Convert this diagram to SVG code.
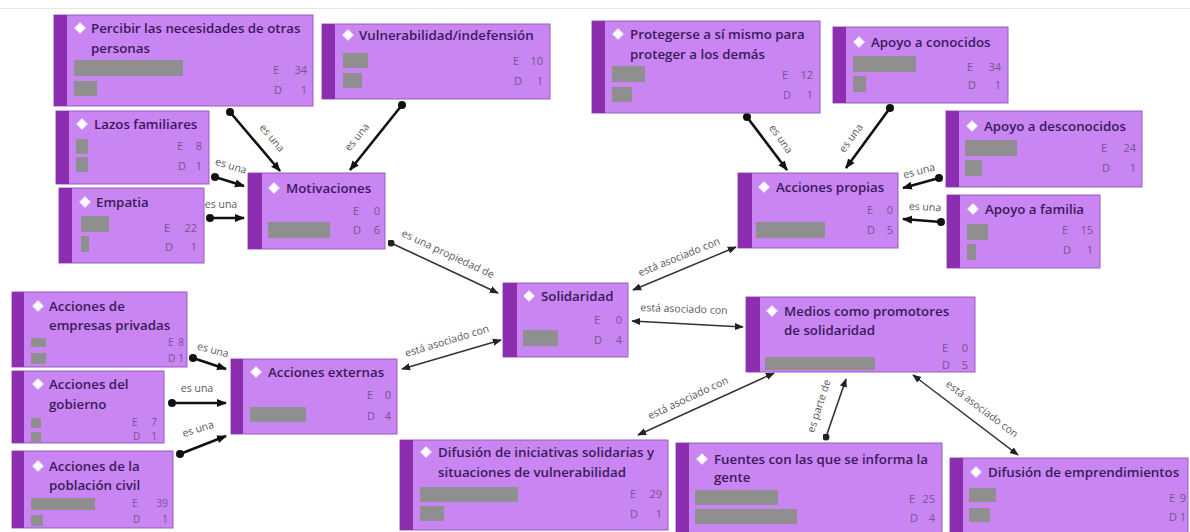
<svg xmlns="http://www.w3.org/2000/svg" width="1190" height="532" viewBox="0 0 1190 532">
<style>
.box{fill:#c985f1;stroke:#9a5cc0;stroke-width:1}
.stripe{fill:#8d2db0}
.bar{fill:#8f8f8f}
.dia{fill:#ffffff;stroke:#eadcf6;stroke-width:0.8}
.t{font-family:"Open Sans","DejaVu Sans",sans-serif;font-size:13.3px;font-weight:600;fill:#3a1a5c}
.n{font-family:"Open Sans","DejaVu Sans",sans-serif;font-size:11px;fill:#73588c}
.ne{font-family:"Open Sans","DejaVu Sans",sans-serif;font-size:11px;fill:#73588c;text-anchor:end}
.sm{font-size:10px}
.lb{font-family:"Open Sans","DejaVu Sans",sans-serif;font-size:10.5px;fill:#5a5a5a;text-anchor:middle}
.isa{stroke:#111111;stroke-width:2.6;fill:none;marker-start:url(#dot);marker-end:url(#arr)}
.prop{stroke:#333333;stroke-width:1.6;fill:none;marker-start:url(#dot2);marker-end:url(#arr2)}
.asoc{stroke:#333333;stroke-width:1.5;fill:none;marker-start:url(#arr2);marker-end:url(#arr2)}
</style>
<defs>
<marker id="arr" markerUnits="userSpaceOnUse" viewBox="0 0 10 10" refX="9" refY="5" markerWidth="10" markerHeight="10" orient="auto-start-reverse"><path d="M0,1 L10,5 L0,9 z" fill="#111"/></marker>
<marker id="arr2" markerUnits="userSpaceOnUse" viewBox="0 0 10 10" refX="9" refY="5" markerWidth="9" markerHeight="9" orient="auto-start-reverse"><path d="M0,1 L10,5 L0,9 z" fill="#222"/></marker>
<marker id="dot" markerUnits="userSpaceOnUse" viewBox="0 0 10 10" refX="5" refY="5" markerWidth="8" markerHeight="8"><circle cx="5" cy="5" r="5" fill="#111"/></marker>
<marker id="dot2" markerUnits="userSpaceOnUse" viewBox="0 0 10 10" refX="5" refY="5" markerWidth="7" markerHeight="7"><circle cx="5" cy="5" r="5" fill="#222"/></marker>
<path id="dm" d="M0,-5.5 L5.5,0 L0,5.5 L-5.5,0 z"/>
</defs>
<rect x="0" y="0" width="1190" height="532" fill="#ffffff"/>
<line x1="0" y1="8.5" x2="1190" y2="8.5" stroke="#e6e6e6" stroke-width="1"/>

<g id="connectors">
<line class="isa" x1="230" y1="112" x2="280" y2="171"/>
<line class="isa" x1="402" y1="105" x2="350" y2="170"/>
<line class="isa" x1="215" y1="177" x2="244" y2="186"/>
<line class="isa" x1="210" y1="218" x2="244" y2="218"/>
<line class="prop" x1="391" y1="243" x2="498" y2="293"/>
<line class="isa" x1="747" y1="117" x2="787" y2="170"/>
<line class="isa" x1="890" y1="108" x2="846" y2="168"/>
<line class="isa" x1="939" y1="178" x2="903" y2="188"/>
<line class="isa" x1="941" y1="222" x2="903" y2="219"/>
<line class="isa" x1="193" y1="358" x2="226" y2="369"/>
<line class="isa" x1="172" y1="403" x2="226" y2="403"/>
<line class="isa" x1="180" y1="454" x2="226" y2="436"/>
<line class="prop" x1="826" y1="437" x2="846" y2="379"/>
<line class="asoc" x1="633" y1="290" x2="736" y2="247"/>
<line class="asoc" x1="632" y1="321" x2="743" y2="327"/>
<line class="asoc" x1="402" y1="369" x2="501" y2="340"/>
<line class="asoc" x1="638" y1="435" x2="774" y2="373"/>
<line class="asoc" x1="913" y1="375" x2="1018" y2="455"/>
<g transform="translate(272,138) rotate(50)"><text class="lb" x="0" y="3.5">es una</text></g>
<g transform="translate(357,137) rotate(-51)"><text class="lb" x="0" y="3.5">es una</text></g>
<g transform="translate(231,166) rotate(17)"><text class="lb" x="0" y="3.5">es una</text></g>
<g transform="translate(221,204)"><text class="lb" x="0" y="3.5">es una</text></g>
<g transform="translate(448,254) rotate(25)"><text class="lb" x="0" y="3.5">es una propiedad de</text></g>
<g transform="translate(781,139) rotate(55)"><text class="lb" x="0" y="3.5">es una</text></g>
<g transform="translate(851,138) rotate(-54)"><text class="lb" x="0" y="3.5">es una</text></g>
<g transform="translate(919,171) rotate(-15)"><text class="lb" x="0" y="3.5">es una</text></g>
<g transform="translate(925,207) rotate(3)"><text class="lb" x="0" y="3.5">es una</text></g>
<g transform="translate(213,350) rotate(15)"><text class="lb" x="0" y="3.5">es una</text></g>
<g transform="translate(197,388)"><text class="lb" x="0" y="3.5">es una</text></g>
<g transform="translate(198,429) rotate(-18)"><text class="lb" x="0" y="3.5">es una</text></g>
<g transform="translate(819,406) rotate(-72)"><text class="lb" x="0" y="3.5">es parte de</text></g>
<g transform="translate(679,257) rotate(-22)"><text class="lb" x="0" y="3.5">está asociado con</text></g>
<g transform="translate(684,309) rotate(2)"><text class="lb" x="0" y="3.5">está asociado con</text></g>
<g transform="translate(447,341) rotate(-17)"><text class="lb" x="0" y="3.5">está asociado con</text></g>
<g transform="translate(688,398) rotate(-25)"><text class="lb" x="0" y="3.5">está asociado con</text></g>
<g transform="translate(982,409) rotate(37)"><text class="lb" x="0" y="3.5">está asociado con</text></g>
</g>

<g id="n1">
<rect class="box" x="54" y="15" width="259" height="91"/><rect class="stripe" x="54" y="15" width="13" height="91"/>
<use href="#dm" class="dia" x="80" y="28"/>
<text class="t" x="91" y="33">Percibir las necesidades de otras</text><text class="t" x="91" y="53">personas</text>
<rect class="bar" x="74" y="60" width="109" height="16"/><rect class="bar" x="74" y="81" width="23" height="15"/>
<text class="n" x="273" y="74">E</text><text class="ne" x="307" y="74">34</text>
<text class="n" x="274" y="94">D</text><text class="ne" x="307" y="94">1</text>
</g>
<g id="n2">
<rect class="box" x="322" y="24" width="228" height="75"/><rect class="stripe" x="322" y="24" width="13" height="75"/>
<use href="#dm" class="dia" x="348" y="35"/>
<text class="t" x="359" y="40">Vulnerabilidad/indefensión</text>
<rect class="bar" x="343" y="53" width="25" height="15"/><rect class="bar" x="343" y="73" width="19" height="15"/>
<text class="n" x="513" y="65">E</text><text class="ne" x="543" y="65">10</text>
<text class="n" x="514" y="85">D</text><text class="ne" x="543" y="85">1</text>
</g>
<g id="n3">
<rect class="box" x="56" y="111" width="153" height="73"/><rect class="stripe" x="56" y="111" width="13" height="73"/>
<use href="#dm" class="dia" x="82" y="124"/>
<text class="t" x="94" y="129">Lazos familiares</text>
<rect class="bar" x="76" y="139" width="12" height="15"/><rect class="bar" x="76" y="157" width="12" height="15"/>
<text class="n" x="177" y="150">E</text><text class="ne" x="202" y="150">8</text>
<text class="n" x="178" y="170">D</text><text class="ne" x="202" y="170">1</text>
</g>
<g id="n4">
<rect class="box" x="59" y="188" width="145" height="75"/><rect class="stripe" x="59" y="188" width="13" height="75"/>
<use href="#dm" class="dia" x="85" y="202"/>
<text class="t" x="96" y="207">Empatia</text>
<rect class="bar" x="81" y="216" width="28" height="16"/><rect class="bar" x="81" y="236" width="8" height="16"/>
<text class="n" x="164" y="232">E</text><text class="ne" x="197" y="232">22</text>
<text class="n" x="165" y="251">D</text><text class="ne" x="197" y="251">1</text>
</g>
<g id="n5">
<rect class="box" x="248" y="173" width="137" height="76"/><rect class="stripe" x="248" y="173" width="14" height="76"/>
<use href="#dm" class="dia" x="274" y="188"/>
<text class="t" x="286" y="193">Motivaciones</text>
<rect class="bar" x="268" y="222" width="62" height="16"/>
<text class="n" x="353" y="215">E</text><text class="ne" x="380" y="215">0</text>
<text class="n" x="353" y="234">D</text><text class="ne" x="380" y="234">6</text>
</g>
<g id="n6">
<rect class="box" x="592" y="21" width="228" height="92"/><rect class="stripe" x="592" y="21" width="13" height="92"/>
<use href="#dm" class="dia" x="618" y="34"/>
<text class="t" x="630" y="39">Protegerse a sí mismo para</text><text class="t" x="630" y="59">proteger a los demás</text>
<rect class="bar" x="612" y="66" width="33" height="16"/><rect class="bar" x="612" y="87" width="20" height="15"/>
<text class="n" x="782" y="79">E</text><text class="ne" x="813" y="79">12</text>
<text class="n" x="783" y="99">D</text><text class="ne" x="813" y="99">1</text>
</g>
<g id="n7">
<rect class="box" x="833" y="27" width="175" height="76"/><rect class="stripe" x="833" y="27" width="13" height="76"/>
<use href="#dm" class="dia" x="859" y="42"/>
<text class="t" x="871" y="47">Apoyo a conocidos</text>
<rect class="bar" x="853" y="56" width="63" height="16"/><rect class="bar" x="853" y="76" width="13" height="16"/>
<text class="n" x="967" y="71">E</text><text class="ne" x="1001" y="71">34</text>
<text class="n" x="968" y="89">D</text><text class="ne" x="1001" y="89">1</text>
</g>
<g id="n8">
<rect class="box" x="946" y="111" width="196" height="76"/><rect class="stripe" x="946" y="111" width="13" height="76"/>
<use href="#dm" class="dia" x="972" y="126"/>
<text class="t" x="984" y="131">Apoyo a desconocidos</text>
<rect class="bar" x="965" y="140" width="52" height="16"/><rect class="bar" x="965" y="160" width="17" height="16"/>
<text class="n" x="1101" y="152">E</text><text class="ne" x="1136" y="152">24</text>
<text class="n" x="1102" y="172">D</text><text class="ne" x="1136" y="172">1</text>
</g>
<g id="n9">
<rect class="box" x="947" y="195" width="153" height="73"/><rect class="stripe" x="947" y="195" width="13" height="73"/>
<use href="#dm" class="dia" x="973" y="209"/>
<text class="t" x="985" y="214">Apoyo a familia</text>
<rect class="bar" x="967" y="224" width="21" height="16"/><rect class="bar" x="967" y="244" width="9" height="16"/>
<text class="n" x="1062" y="234">E</text><text class="ne" x="1093" y="234">15</text>
<text class="n" x="1063" y="254">D</text><text class="ne" x="1093" y="254">1</text>
</g>
<g id="n10">
<rect class="box" x="738" y="173" width="160" height="75"/><rect class="stripe" x="738" y="173" width="14" height="75"/>
<use href="#dm" class="dia" x="764" y="187"/>
<text class="t" x="776" y="192">Acciones propias</text>
<rect class="bar" x="756" y="222" width="69" height="16"/>
<text class="n" x="867" y="214">E</text><text class="ne" x="893" y="214">0</text>
<text class="n" x="867" y="234">D</text><text class="ne" x="893" y="234">5</text>
</g>
<g id="n11">
<rect class="box" x="503" y="283" width="125" height="74"/><rect class="stripe" x="503" y="283" width="14" height="74"/>
<use href="#dm" class="dia" x="529" y="296"/>
<text class="t" x="541" y="301">Solidaridad</text>
<rect class="bar" x="523" y="330" width="35" height="16"/>
<text class="n" x="594" y="324">E</text><text class="ne" x="622" y="324">0</text>
<text class="n" x="594" y="344">D</text><text class="ne" x="622" y="344">4</text>
</g>
<g id="n12">
<rect class="box" x="746" y="297" width="229" height="75"/><rect class="stripe" x="746" y="297" width="14" height="75"/>
<use href="#dm" class="dia" x="772" y="311"/>
<text class="t" x="784" y="316">Medios como promotores</text><text class="t" x="784" y="335">de solidaridad</text>
<rect class="bar" x="765" y="357" width="110" height="13"/>
<text class="n" x="942" y="352">E</text><text class="ne" x="968" y="352">0</text>
<text class="n" x="942" y="369">D</text><text class="ne" x="968" y="369">5</text>
</g>
<g id="n13">
<rect class="box" x="12" y="292" width="175" height="75"/><rect class="stripe" x="12" y="292" width="12" height="75"/>
<use href="#dm" class="dia" x="38" y="306"/>
<text class="t" x="49" y="311">Acciones de</text><text class="t" x="49" y="330">empresas privadas</text>
<rect class="bar" x="31" y="338" width="15" height="9"/><rect class="bar" x="31" y="353" width="15" height="11"/>
<text class="n sm" x="168" y="346">E</text><text class="ne sm" x="184" y="346">8</text>
<text class="n sm" x="168" y="362">D</text><text class="ne sm" x="184" y="362">1</text>
</g>
<g id="n14">
<rect class="box" x="12" y="371" width="152" height="72"/><rect class="stripe" x="12" y="371" width="12" height="72"/>
<use href="#dm" class="dia" x="38" y="384"/>
<text class="t" x="49" y="389">Acciones del</text><text class="t" x="49" y="409">gobierno</text>
<rect class="bar" x="31" y="418" width="10" height="10"/><rect class="bar" x="31" y="432" width="10" height="10"/>
<text class="n sm" x="132" y="426">E</text><text class="ne sm" x="157" y="426">7</text>
<text class="n sm" x="133" y="440">D</text><text class="ne sm" x="157" y="440">1</text>
</g>
<g id="n15">
<rect class="box" x="12" y="451" width="161" height="77"/><rect class="stripe" x="12" y="451" width="12" height="77"/>
<use href="#dm" class="dia" x="38" y="466"/>
<text class="t" x="49" y="471">Acciones de la</text><text class="t" x="49" y="490">población civil</text>
<rect class="bar" x="31" y="498" width="64" height="12"/><rect class="bar" x="31" y="515" width="12" height="11"/>
<text class="n sm" x="132" y="507">E</text><text class="ne sm" x="168" y="507">39</text>
<text class="n sm" x="133" y="523">D</text><text class="ne sm" x="168" y="523">1</text>
</g>
<g id="n16">
<rect class="box" x="231" y="359" width="166" height="75"/><rect class="stripe" x="231" y="359" width="12" height="75"/>
<use href="#dm" class="dia" x="256" y="372"/>
<text class="t" x="268" y="377">Acciones externas</text>
<rect class="bar" x="250" y="407" width="56" height="15"/>
<text class="n" x="367" y="399">E</text><text class="ne" x="391" y="399">0</text>
<text class="n" x="367" y="420">D</text><text class="ne" x="391" y="420">4</text>
</g>
<g id="n17">
<rect class="box" x="400" y="440" width="268" height="90"/><rect class="stripe" x="400" y="440" width="13" height="90"/>
<use href="#dm" class="dia" x="426" y="452"/>
<text class="t" x="438" y="457">Difusión de iniciativas solidarias y</text><text class="t" x="438" y="477">situaciones de vulnerabilidad</text>
<rect class="bar" x="420" y="487" width="98" height="15"/><rect class="bar" x="420" y="506" width="24" height="15"/>
<text class="n" x="630" y="498">E</text><text class="ne" x="662" y="498">29</text>
<text class="n" x="630" y="518">D</text><text class="ne" x="662" y="518">1</text>
</g>
<g id="n18">
<rect class="box" x="676" y="443" width="266" height="92"/><rect class="stripe" x="676" y="443" width="13" height="92"/>
<use href="#dm" class="dia" x="702" y="459"/>
<text class="t" x="714" y="464">Fuentes con las que se informa la</text><text class="t" x="714" y="482">gente</text>
<rect class="bar" x="695" y="490" width="83" height="15"/><rect class="bar" x="695" y="509" width="102" height="15"/>
<text class="n" x="909" y="503">E</text><text class="ne" x="935" y="503">25</text>
<text class="n" x="910" y="522">D</text><text class="ne" x="935" y="522">4</text>
</g>
<g id="n19">
<rect class="box" x="950" y="458" width="238" height="77"/><rect class="stripe" x="950" y="458" width="13" height="77"/>
<use href="#dm" class="dia" x="976" y="472"/>
<text class="t" x="988" y="477">Difusión de emprendimientos</text>
<rect class="bar" x="969" y="488" width="27" height="14"/><rect class="bar" x="969" y="508" width="21" height="14"/>
<text class="n" x="1169" y="502">E</text><text class="ne" x="1186" y="502">9</text>
<text class="n" x="1169" y="521">D</text><text class="ne" x="1186" y="521">1</text>
</g>
</svg>
